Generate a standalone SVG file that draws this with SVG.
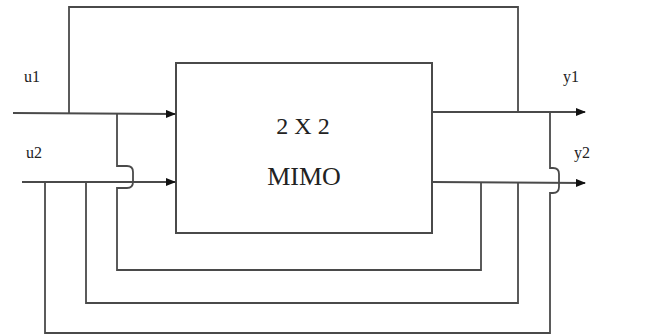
<svg xmlns="http://www.w3.org/2000/svg" width="659" height="335" viewBox="0 0 659 335">
<style>
.w{fill:none;stroke:#4a4a4a;stroke-width:1.8}
.t{font-family:"Liberation Serif","Times New Roman",serif;fill:#222}
</style>
<defs>
<marker id="ah" markerWidth="10" markerHeight="8" refX="9" refY="4" orient="auto" markerUnits="userSpaceOnUse">
<path d="M0,0 L10,4 L0,8 Z" fill="#111"/>
</marker>
</defs>
<rect width="659" height="335" fill="#fff"/>
<g id="mimo">
<rect x="176" y="63" width="256" height="170" fill="#fff" stroke="#4a4a4a" stroke-width="2"/>
<text class="t" x="303" y="134" font-size="24" text-anchor="middle">2 X 2</text>
<text class="t" x="304" y="185" font-size="26" text-anchor="middle">MIMO</text>
</g>
<g id="labels">
<text class="t" x="24" y="82" font-size="16">u1</text>
<text class="t" x="26" y="158" font-size="16">u2</text>
<text class="t" x="563" y="82" font-size="16">y1</text>
<text class="t" x="574" y="158" font-size="16">y2</text>
</g>
<g id="connectors">
<path class="w" d="M13,113 L175,114" marker-end="url(#ah)"/>
<path class="w" d="M22,182 L175,182" marker-end="url(#ah)"/>
<path class="w" d="M432,112 L585,112" marker-end="url(#ah)"/>
<path class="w" d="M432,182 L585,183" marker-end="url(#ah)"/>
<path class="w" d="M69,113 L69,7 L518,7 L518,112"/>
<path class="w" d="M117,114 L117,166 L127,166 Q133,166 133,172 L133,182 Q133,188 127,188 L117,188 L117,270 L481,270 L481,182"/>
<path class="w" d="M86,182 L86,303 L518,303 L518,182"/>
<path class="w" d="M45,182 L45,333 L550,333 L550,193 L553,193 Q559,193 559,187 L559,174 Q559,168 553,168 L550,168 L550,112"/>
</g>
</svg>
